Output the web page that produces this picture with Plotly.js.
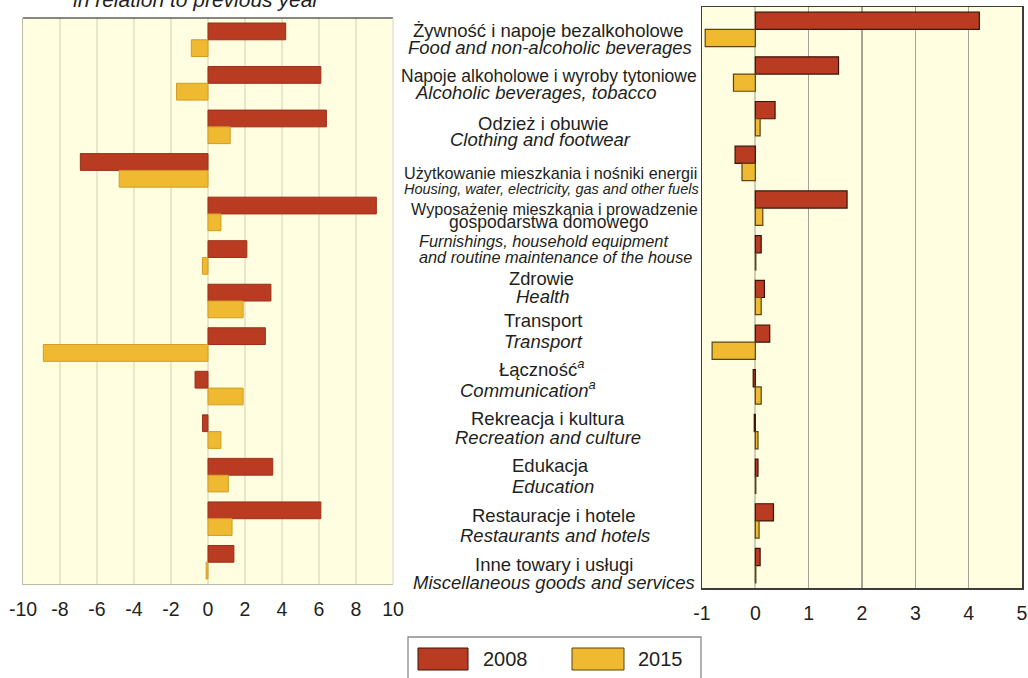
<!DOCTYPE html>
<html><head><meta charset="utf-8">
<script src="https://cdn.plot.ly/plotly-3.0.1.min.js"></script>
<style>html,body{margin:0;padding:0;background:#fff}#chart{width:1028px;height:678px}</style>
</head><body><div id="chart"></div>
<script>
// ---------- data ----------
const categories = ['Total','Food','Alcohol','Clothing','Housing','Furnishings','Health','Transport','Communication','Recreation','Education','Restaurants','Miscellaneous'];
const years = ['2008','2015'];
// price change in relation to previous year (left panel)
const change2008 = [4.2, 6.1, 6.4, -6.9, 9.1, 2.1, 3.4, 3.1, -0.7, -0.3, 3.5, 6.1, 1.4];
const change2015 = [-0.9, -1.7, 1.2, -4.8, 0.7, -0.3, 1.9, -8.9, 1.9, 0.7, 1.1, 1.3, -0.1];
// contribution (right panel)
const contrib2008 = [4.2, 1.56, 0.37, -0.38, 1.72, 0.11, 0.17, 0.27, -0.04, -0.02, 0.05, 0.34, 0.09];
const contrib2015 = [-0.94, -0.41, 0.09, -0.25, 0.14, 0.01, 0.11, -0.81, 0.11, 0.05, 0.01, 0.07, 0.01];
const labelsPL = ['Żywność i napoje bezalkoholowe','Napoje alkoholowe i wyroby tytoniowe','Odzież i obuwie','Użytkowanie mieszkania i nośniki energii','Wyposażenie mieszkania i prowadzenie<br>gospodarstwa domowego','Zdrowie','Transport','Łączność<sup><i>a</i></sup>','Rekreacja i kultura','Edukacja','Restauracje i hotele','Inne towary i usługi'];
const labelsEN = ['Food and non-alcoholic beverages','Alcoholic beverages, tobacco','Clothing and footwear','Housing, water, electricity, gas and other fuels','Furnishings, household equipment<br>and routine maintenance of the house','Health','Transport','Communication<sup>a</sup>','Recreation and culture','Education','Restaurants and hotels','Miscellaneous goods and services'];
const leftTicks = [-10,-8,-6,-4,-2,0,2,4,6,8,10];
const rightTicks = [-1,0,1,2,3,4,5];
const titleLeft = 'in relation to previous year';

// ---------- styling / layout ----------
const W = 1028, H = 678;
const px = x => x / W;
const py = y => 1 - y / H;
const FONT = '"Liberation Sans", Arial, sans-serif';
const TXT = '#231f20';
const C08 = '#b93c22', C15 = '#f0b932';

const lineX = [548,550, 549,536, 543,540, 550,551, 554,548,544,555, 541,542, 543,543, 541,528, 548,548, 550,553, 554,555, 554,554];
const lineBase = [37,54, 82,99, 130,146, 179,194, 215,228,247,263, 285,303, 327,348, 374,395, 425,444, 472,493, 522,542, 571,589];
const lineSize = [18.5,18.5, 17.5,18.5, 18.5,18.5, 16.2,14.5, 16.2,17.5,16.3,16.3, 18.3,18.5, 18.5,18.5, 18.5,18.5, 18.5,18.5, 18.5,18.5, 18.5,18.5, 18.5,18.5];

const lines = [];
labelsPL.forEach((pl, i) => {
  pl.split('<br>').forEach(t => lines.push({t: t, it: false}));
  labelsEN[i].split('<br>').forEach(t => lines.push({t: t, it: true}));
});
const annotations = lines.map((l, k) => ({
  xref: 'paper', yref: 'paper', x: px(lineX[k]), y: py(lineBase[k] - 0.35 * lineSize[k]),
  xanchor: 'center', yanchor: 'middle', showarrow: false,
  text: l.it ? '<i>' + l.t + '</i>' : l.t,
  font: {family: FONT, size: lineSize[k], color: TXT}
}));
annotations.push({xref:'paper', yref:'paper', x: px(196), y: py(7 - 0.35*21), xanchor:'center', yanchor:'middle', showarrow:false,
  text: '<i>' + titleLeft + '</i>', font:{family:FONT, size:21, color:TXT}});
// legend texts
annotations.push({xref:'paper', yref:'paper', x: px(481), y: py(659), xanchor:'left', yanchor:'middle', showarrow:false,
  text: years[0], font:{family:FONT, size:20, color:TXT}});
annotations.push({xref:'paper', yref:'paper', x: px(636), y: py(659), xanchor:'left', yanchor:'middle', showarrow:false,
  text: years[1], font:{family:FONT, size:20, color:TXT}});

const shapes = [
  // left panel top black line and right light line
  {type:'line', xref:'x domain', yref:'y domain', x0:0, x1:1, y0:1, y1:1, line:{color:'#111', width:1.2}},
  {type:'line', xref:'x domain', yref:'y domain', x0:1, x1:1, y0:0, y1:1, line:{color:'#d6d5c2', width:1}},
  // legend box
  {type:'rect', xref:'paper', yref:'paper', x0:px(408), x1:px(701), y0:py(695), y1:py(637), line:{color:'#8a8a8a', width:1.3}, fillcolor:'rgba(0,0,0,0)'},
  {type:'rect', xref:'paper', yref:'paper', x0:px(418), x1:px(468), y0:py(670), y1:py(648), line:{color:'#3d1208', width:1}, fillcolor:C08},
  {type:'rect', xref:'paper', yref:'paper', x0:px(572), x1:px(624), y0:py(670), y1:py(648), line:{color:'#5d4512', width:1}, fillcolor:C15}
];

const traces = [
  {type:'bar', orientation:'h', name:years[0], y:categories, x:change2008, xaxis:'x', yaxis:'y',
   marker:{color:C08, line:{color:'#983018', width:1}}, showlegend:false, hoverinfo:'x'},
  {type:'bar', orientation:'h', name:years[1], y:categories, x:change2015, xaxis:'x', yaxis:'y',
   marker:{color:C15, line:{color:'#cf9d27', width:1}}, showlegend:false, hoverinfo:'x'},
  {type:'bar', orientation:'h', name:years[0], y:categories, x:contrib2008, xaxis:'x2', yaxis:'y2',
   marker:{color:C08, line:{color:'#3d1208', width:1.2}}, showlegend:false, hoverinfo:'x'},
  {type:'bar', orientation:'h', name:years[1], y:categories, x:contrib2015, xaxis:'x2', yaxis:'y2',
   marker:{color:C15, line:{color:'#5d4512', width:1.2}}, showlegend:false, hoverinfo:'x'}
];

const tickFont = {family: FONT, size: 19.5, color: TXT};
const layout = {
  width: W, height: H,
  margin: {l:0, r:0, t:0, b:0, pad:0},
  paper_bgcolor: '#ffffff',
  plot_bgcolor: '#fffee0',
  barmode: 'group', bargap: 0.23, bargroupgap: 0,
  showlegend: false,
  font: {family: FONT, color: TXT},
  xaxis: {domain:[px(23), px(393)], range:[-10,10], tickvals:leftTicks, ticktext:leftTicks.map(String),
    showgrid:true, gridcolor:'#e9e7cb', gridwidth:1.3, zeroline:false,
    showline:true, linecolor:'#bdbca5', linewidth:1.3, ticks:'', ticklabelstandoff:7, tickfont:tickFont, anchor:'y', fixedrange:true},
  yaxis: {domain:[py(584), py(18)], range:[12.5,-0.5], type:'category', showticklabels:false, showgrid:false, zeroline:false,
    showline:true, linecolor:'#bdbca5', linewidth:1.3, ticks:'', anchor:'x', fixedrange:true},
  xaxis2: {domain:[px(702), px(1022)], range:[-1,5], tickvals:rightTicks, ticktext:rightTicks.map(String),
    showgrid:true, gridcolor:'#a5a493', gridwidth:1.4, zeroline:true, zerolinecolor:'#cfcdb5', zerolinewidth:2,
    showline:true, mirror:true, linecolor:'#3c3c3c', linewidth:1.5, ticks:'', ticklabelstandoff:7, tickfont:tickFont, anchor:'y2', fixedrange:true},
  yaxis2: {domain:[py(588), py(7)], range:[12.5,-0.5], type:'category', showticklabels:false, showgrid:false, zeroline:false,
    showline:true, mirror:true, linecolor:'#3c3c3c', linewidth:1.5, ticks:'', anchor:'x2', fixedrange:true},
  annotations: annotations,
  shapes: shapes
};
Plotly.newPlot('chart', traces, layout, {displayModeBar:false, staticPlot:true});
</script>
</body></html>
